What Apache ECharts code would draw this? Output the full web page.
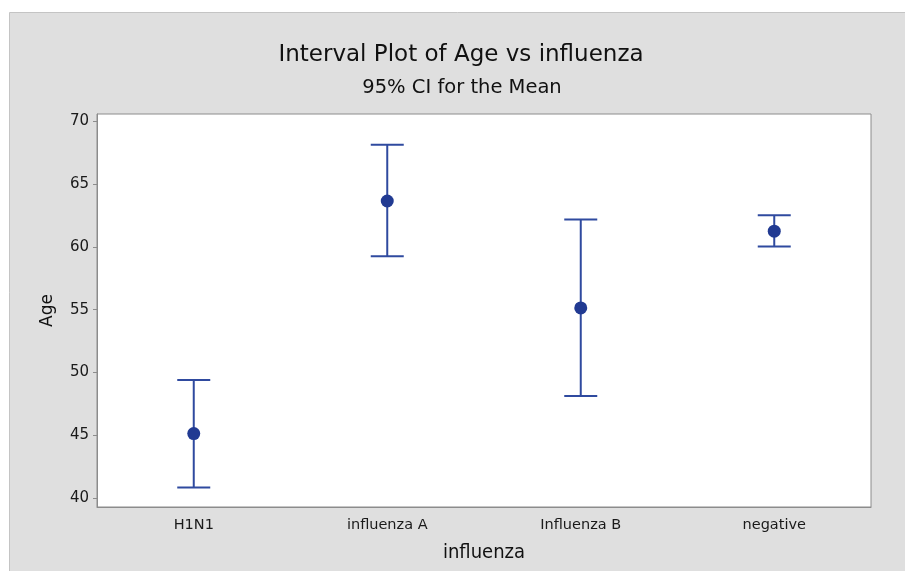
<!DOCTYPE html>
<html>
<head>
<meta charset="utf-8">
<script src="https://cdn.jsdelivr.net/npm/echarts@6/dist/echarts.min.js"></script>
<style>html,body{margin:0;padding:0;background:#fff}#c{width:905px;height:571px}</style>
</head>
<body>
<div id="c"></div>
<script>
var categories = ['H1N1', 'influenza A', 'Influenza B', 'negative'];
var means = [45.15, 63.64, 55.14, 61.24];
var lower = [40.87, 59.25, 48.13, 60.02];
var upper = [49.40, 68.12, 62.17, 62.51];
var yTicks = [40, 45, 50, 55, 60, 65, 70];

var chart = echarts.init(document.getElementById('c'));
var intervals = categories.map(function (c, i) { return [i, lower[i], upper[i]]; });
var lineColor = '#2f4a9f';
var dotColor = '#213a92';
var wide = '"DejaVu Sans", Verdana, sans-serif';
var cond = '"DejaVu Sans Condensed", "DejaVu Sans", sans-serif';

chart.setOption({
  backgroundColor: '#ffffff',
  animation: false,
  graphic: [{
    type: 'rect', z: -10, silent: true,
    shape: { x: 9.5, y: 12.5, width: 900, height: 570 },
    style: { fill: '#dfdfdf', stroke: '#c4c4c4', lineWidth: 1 }
  }],
  title: [{
    text: 'Interval Plot of Age vs influenza',
    left: 456, top: 39, textAlign: 'center',
    textStyle: { fontFamily: wide, fontSize: 23, fontWeight: 'normal', color: '#111' }
  }, {
    text: '95% CI for the Mean',
    left: 457, top: 72.5, textAlign: 'center',
    textStyle: { fontFamily: wide, fontSize: 19.5, fontWeight: 'normal', color: '#111' }
  }],
  grid: {
    left: 97, top: 114, width: 774, height: 393,
    show: true, backgroundColor: '#ffffff', borderColor: '#8c8c8c', borderWidth: 1
  },
  xAxis: {
    type: 'category', data: categories,
    name: 'influenza', nameLocation: 'middle', nameGap: 36,
    nameTextStyle: { fontFamily: cond, fontSize: 20, color: '#111' },
    axisLine: { lineStyle: { color: '#8c8c8c' } },
    axisTick: { alignWithLabel: true, length: 4, lineStyle: { color: '#8c8c8c' } },
    axisLabel: { fontFamily: wide, fontSize: 14.5, color: '#1a1a1a', margin: 11 },
    splitLine: { show: false }
  },
  yAxis: {
    type: 'value', min: 39.31, max: 70.56,
    name: 'Age', nameLocation: 'middle', nameGap: 41, nameRotate: 90,
    nameTextStyle: { fontFamily: wide, fontSize: 17, color: '#111' },
    axisLine: { show: true, lineStyle: { color: '#8c8c8c' } },
    axisTick: { show: true, length: 4, lineStyle: { color: '#8c8c8c' },
      customValues: yTicks },
    axisLabel: { fontFamily: wide, fontSize: 15, color: '#1a1a1a', margin: 8,
      customValues: yTicks },
    splitLine: { show: false }
  },
  series: [{
    type: 'custom',
    data: intervals,
    encode: { x: 0, y: [1, 2] },
    renderItem: function (params, api) {
      var x = api.value(0);
      var lo = api.coord([x, api.value(1)]);
      var hi = api.coord([x, api.value(2)]);
      var hw = 16.5;
      var st = { stroke: lineColor, lineWidth: 2, fill: null };
      return {
        type: 'group',
        children: [
          { type: 'line', shape: { x1: lo[0], y1: lo[1], x2: hi[0], y2: hi[1] }, style: st },
          { type: 'line', shape: { x1: lo[0] - hw, y1: lo[1], x2: lo[0] + hw, y2: lo[1] }, style: st },
          { type: 'line', shape: { x1: hi[0] - hw, y1: hi[1], x2: hi[0] + hw, y2: hi[1] }, style: st }
        ]
      };
    },
    z: 2
  }, {
    type: 'scatter',
    data: means,
    symbol: 'circle', symbolSize: 13,
    itemStyle: { color: dotColor, opacity: 1 },
    z: 3
  }]
});
</script>
</body>
</html>
